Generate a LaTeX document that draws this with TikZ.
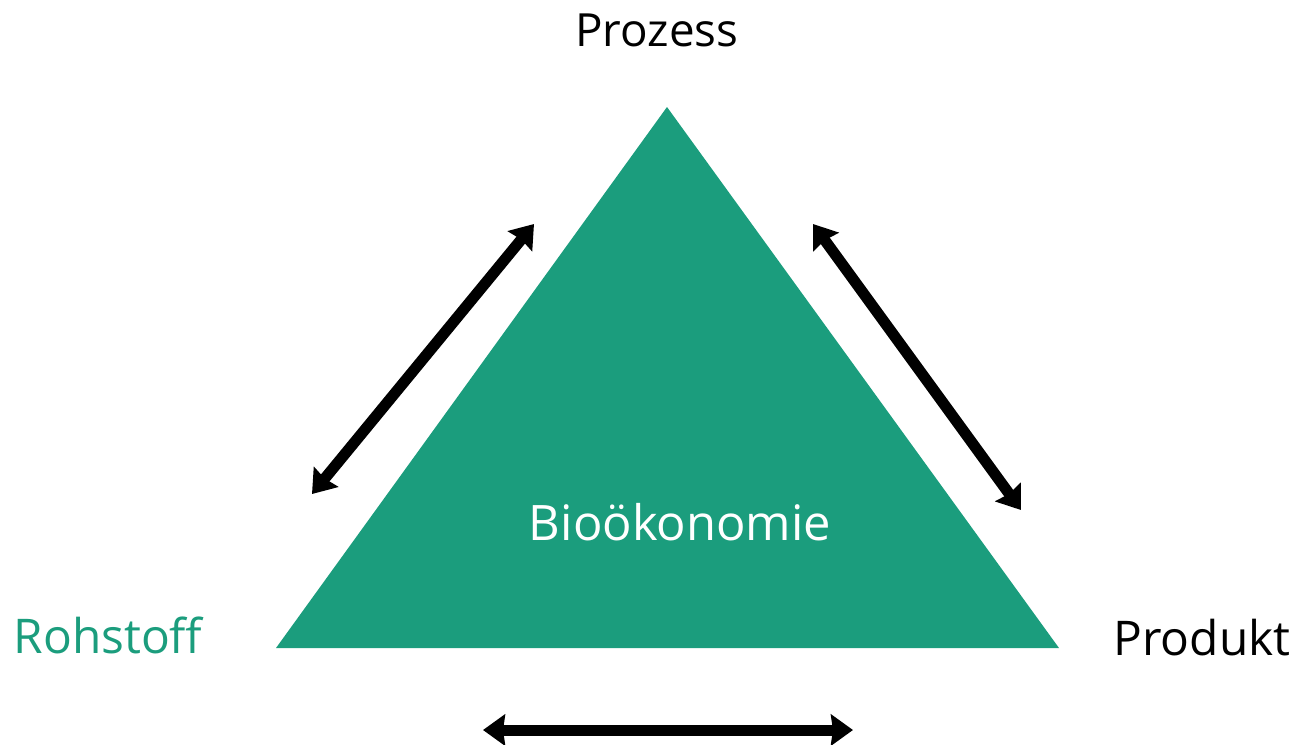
\documentclass[tikz,border=0pt]{standalone}
\usepackage{fontspec}
\setmainfont{Open Sans}
\usetikzlibrary{arrows.meta,positioning}
\definecolor{bioteal}{HTML}{1B9D7D}

\begin{document}
\begin{tikzpicture}[x=0.01cm,y=-0.01cm,
		>={Stealth[length=0.22cm,width=0.31cm,inset=0.02cm]},
		label/.style={font=\fontsize{13.6}{15}\selectfont, inner sep=0pt},
		pfeil/.style={<->, line width=0.11cm}]
								\useasboundingbox (0,0) rectangle (1299,744);

								\coordinate (top) at (667,107);
								\coordinate (left) at (276,648);
								\coordinate (right) at (1059,648);
								\fill[bioteal] (top) -- (left) -- (right) -- cycle;

								\node[label, font=\fontsize{13}{15}\selectfont] (prozess) at (657,30) {Prozess};
								\node[label, text=bioteal] (rohstoff) at (108,635) {Rohstoff};
								\node[label] (produkt) at (1202,638) {Produkt};
								\node[label, font=\fontsize{13.9}{15}\selectfont, text=white] (bio) at (680,522) {Bioökonomie};

								\coordinate (l0) at (312,494);
								\coordinate (l1) at (534,224);
								\coordinate (r0) at (813,224);
								\coordinate (r1) at (1021,510);
								\coordinate (b0) at (483,730);
								\coordinate (b1) at (853,730);

								\draw[pfeil] (l0) to (l1);
								\draw[pfeil] (r0) to (r1);
								\draw[pfeil] (b0) to (b1);

							\end{tikzpicture}
\end{document}
